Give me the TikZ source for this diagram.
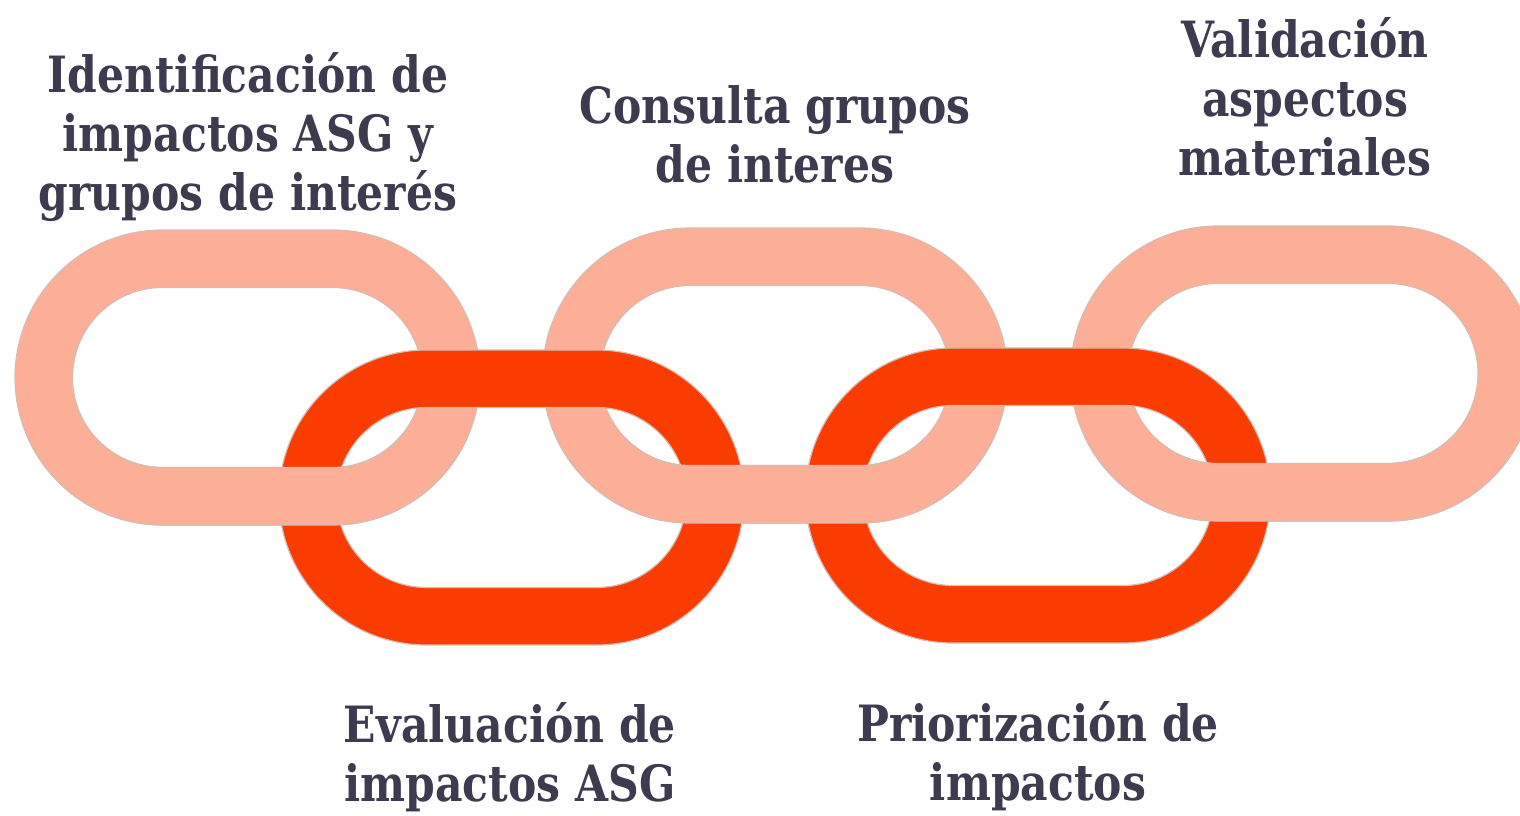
\documentclass[tikz,border=0pt]{standalone}
\usepackage{fontspec}
\newfontfamily\lblfont[FakeStretch=0.85]{DejaVu Serif}
\definecolor{lightlink}{HTML}{FCAE96}
\definecolor{darklink}{HTML}{FB3C00}
\definecolor{linkedge}{HTML}{D6BDB4}
\definecolor{txt}{HTML}{3E3A4F}
% one chain link: #1 centre x, #2 centre y, #3 fill colour
\newcommand{\chainring}[3]{%
  \filldraw[ringstyle, fill=#3]
    (#1-85,#2+147.5) -- (#1+85,#2+147.5) arc[start angle=90,end angle=-90,radius=147.5]
    -- (#1-85,#2-147.5) arc[start angle=270,end angle=90,radius=147.5] -- cycle
    (#1-85,#2+90) -- (#1+85,#2+90) arc[start angle=90,end angle=-90,radius=90]
    -- (#1-85,#2-90) arc[start angle=270,end angle=90,radius=90] -- cycle;}
\tikzset{
  ringstyle/.style={draw=linkedge, line width=1.2pt, even odd rule},
  lbl/.style={anchor=base, inner sep=0pt, text=txt,
    font=\lblfont\bfseries\fontsize{50}{59}\selectfont}
}
\begin{document}
\begin{tikzpicture}[x=1pt,y=1pt]
\useasboundingbox (0,0) rectangle (1520,815);
\clip (0,0) rectangle (1520,815);
% light links
\chainring{247.5}{437.5}{lightlink}
\chainring{775}{439.5}{lightlink}
\chainring{1303}{441.5}{lightlink}
% dark links
\chainring{511.5}{317.5}{darklink}
\chainring{1038}{319.5}{darklink}
% light links pass over the dark links at the bottom
\begin{scope}
  \clip (0,0) rectangle (1520,378);
  \chainring{247.5}{437.5}{lightlink}
  \chainring{775}{439.5}{lightlink}
  \chainring{1303}{441.5}{lightlink}
\end{scope}
% labels
\node[lbl] (lab1) at (248,722.5) {\begin{tabular}[t]{@{}c@{}}Identificación de\\impactos ASG y\\grupos de interés\end{tabular}};
\node[lbl] (lab2) at (775,691) {\begin{tabular}[t]{@{}c@{}}Consulta grupos\\de interes\end{tabular}};
\node[lbl] (lab3) at (1305,757.5) {\begin{tabular}[t]{@{}c@{}}Validación\\aspectos\\materiales\end{tabular}};
\node[lbl] (lab4) at (510,73) {\begin{tabular}[t]{@{}c@{}}Evaluación de\\impactos ASG\end{tabular}};
\node[lbl] (lab5) at (1038,74) {\begin{tabular}[t]{@{}c@{}}Priorización de\\impactos\end{tabular}};
\end{tikzpicture}
\end{document}
